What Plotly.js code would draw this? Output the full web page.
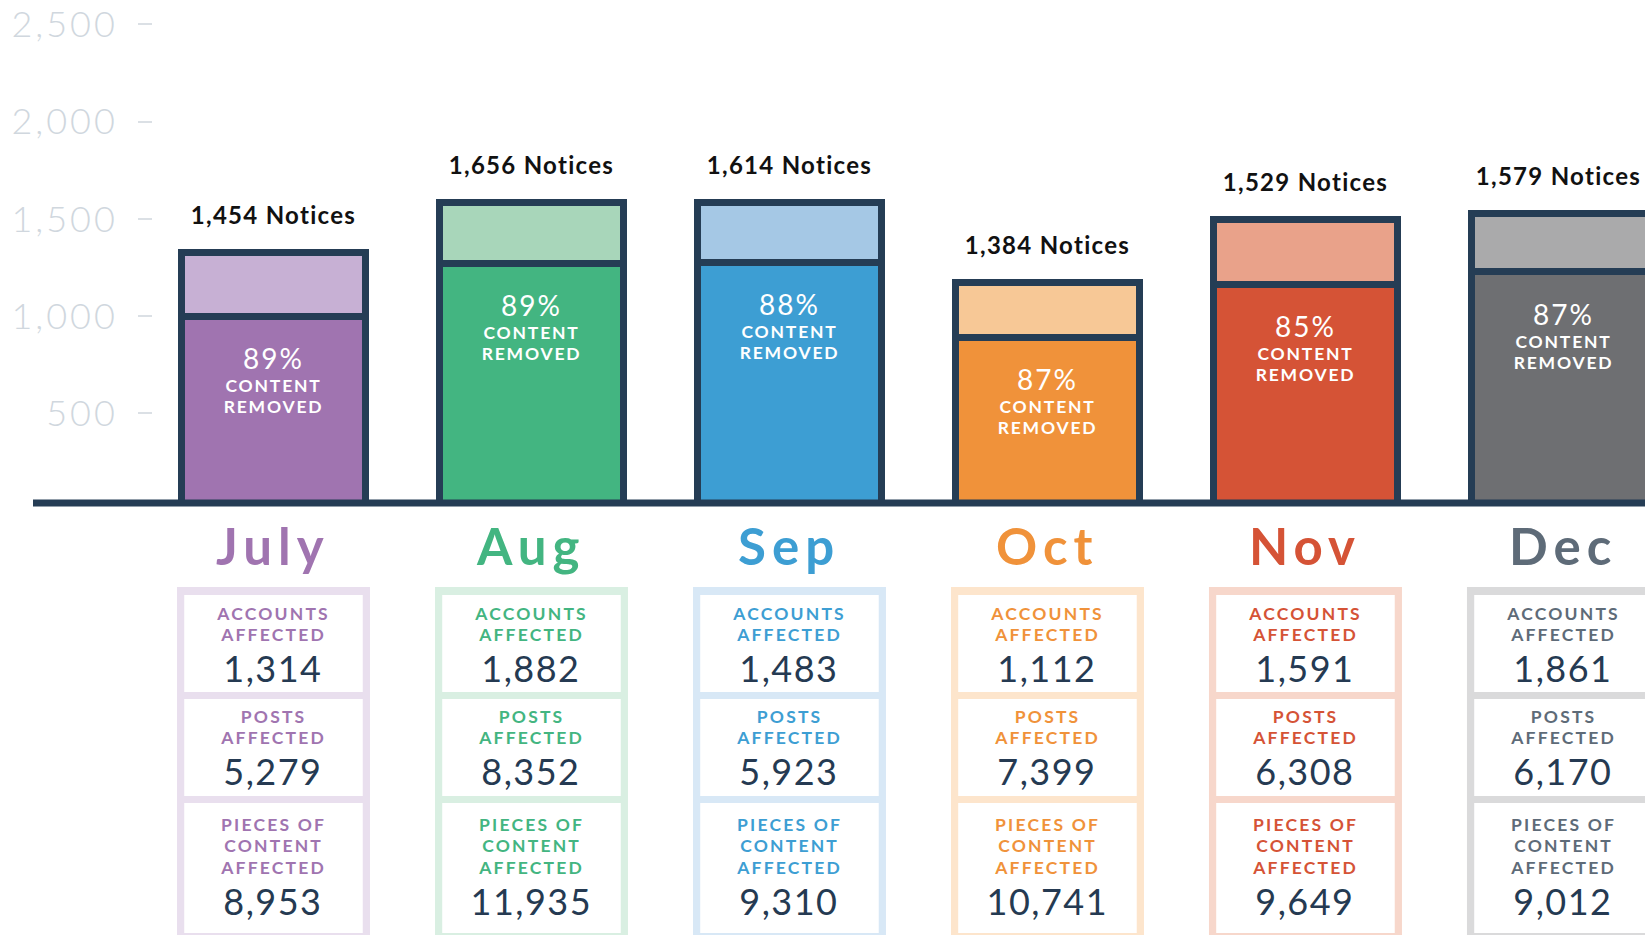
<!DOCTYPE html>
<html>
<head>
<meta charset="utf-8">
<script src="https://cdn.plot.ly/plotly-3.0.1.min.js"></script>
<style>
  html, body { margin: 0; padding: 0; background: #ffffff; }
  #chart { width: 1645px; height: 935px; }
  .ytick text { letter-spacing: 3px; }
</style>
</head>
<body>
<div id="chart"></div>
<script>
// ---------------- data ----------------
const months = ["July", "Aug", "Sep", "Oct", "Nov", "Dec"];
const notices = [1454, 1656, 1614, 1384, 1529, 1579];
const removedPct = [89, 89, 88, 87, 85, 87];
// bar segments as drawn against the y axis
const removedBar = [998, 1271, 1278, 892, 1165, 1229];
const remainderBar = [327, 311, 306, 281, 334, 299];
const accounts = [1314, 1882, 1483, 1112, 1591, 1861];
const posts = [5279, 8352, 5923, 7399, 6308, 6170];
const pieces = [8953, 11935, 9310, 10741, 9649, 9012];
const yTicks = [500, 1000, 1500, 2000, 2500];

// ---------------- styles ----------------
const darkColors  = ["#a074b0", "#43b581", "#3d9ed3", "#f0923a", "#d55336", "#6e6f72"];
const lightColors = ["#c7b0d4", "#a8d6ba", "#a5c8e5", "#f7c896", "#e9a28a", "#aaaaab"];
const labelColors = ["#a074b0", "#43b581", "#3d9ed3", "#f0923a", "#d55336", "#5e6b78"];
const boxColors   = ["#e9dfee", "#d9efe2", "#d8e8f6", "#fde5cc", "#f7d7cb", "#dadadb"];
const navy = "#253d55";
const numNavy = "#253a52";
const FONT = "Lato, 'Open Sans', sans-serif";

const W = 1645, H = 935;
const ML = 153, PLOT_BOTTOM = 503;
const LAB = 17.5;        // small caps label size
const LINE_EM = 1.22;    // line pitch of stacked caps labels
const fmt = v => v.toLocaleString("en-US");
const P = py => (PLOT_BOTTOM - py) / PLOT_BOTTOM; // pixel row -> paper y

// ---------------- traces ----------------
const traces = [
  {
    type: "bar", x: months, y: removedBar, width: 0.713,
    marker: { color: darkColors, line: { color: navy, width: 7 } },
    hoverinfo: "skip", showlegend: false
  },
  {
    type: "bar", x: months, y: remainderBar, width: 0.713,
    marker: { color: lightColors, line: { color: navy, width: 7 } },
    hoverinfo: "skip", showlegend: false
  }
];

// ---------------- shapes & annotations ----------------
const shapes = [];
const annotations = [];
const post = [];   // per-annotation post-render tweaks: {ls, lineEm}
function addAnn(a, ls, lineEm) {
  annotations.push(Object.assign({ showarrow: false }, a));
  post.push({ ls: ls || 0, lineEm: lineEm || 0 });
}

// baseline
shapes.push({
  type: "line", xref: "paper", yref: "paper",
  x0: (33 - ML) / (W - ML), x1: 1, y0: 0, y1: 0,
  line: { color: navy, width: 7 }, layer: "above"
});

const cells = [[595, 692], [699, 796], [803, 933]];
const last = months.length - 1;
months.forEach((m, i) => {
  // info box
  shapes.push({
    type: "rect", xref: "x", yref: "paper",
    x0: i - 0.374, x1: i + 0.374, y0: P(940), y1: P(587),
    fillcolor: boxColors[i], line: { width: 0 }, layer: "below"
  });
  cells.forEach(c => shapes.push({
    type: "rect", xref: "x", yref: "paper",
    x0: i - 0.346, x1: i + 0.346, y0: P(c[1]), y1: P(c[0]),
    fillcolor: "#ffffff", line: { width: 0 }, layer: "below"
  }));

  const total = removedBar[i] + remainderBar[i];
  // notices label
  addAnn({
    x: m, xref: "x", y: total, yref: "y", yanchor: "middle", yshift: 38,
    xshift: i === last ? -5 : 0,
    text: fmt(notices[i]) + " Notices",
    font: { family: FONT, size: 24, color: "#111111", weight: 700 }
  }, 1.3);
  // percent removed
  addAnn({
    x: m, xref: "x", y: removedBar[i], yref: "y", yanchor: "middle", yshift: -42,
    text: removedPct[i] + "%",
    font: { family: FONT, size: 28, color: "#ffffff", weight: 400 }
  }, 2);
  addAnn({
    x: m, xref: "x", y: removedBar[i], yref: "y", yanchor: "top", yshift: -(70 - 13),
    text: "CONTENT<br>REMOVED", font: { family: FONT, size: LAB, color: "#ffffff", weight: 700 }
  }, 1.8, LINE_EM);

  // month name
  addAnn({
    x: m, xref: "x", y: P(545), yref: "paper", yanchor: "middle",
    text: m, font: { family: FONT, size: 51, color: labelColors[i], weight: 700 }
  }, 6);

  const lab = (txt, firstCenter) => addAnn({
    x: m, xref: "x", y: P(firstCenter - 13), yref: "paper", yanchor: "top",
    text: txt, font: { family: FONT, size: LAB, color: labelColors[i], weight: 700 }
  }, 2.2, LINE_EM);
  const num = (v, py) => addAnn({
    x: m, xref: "x", y: P(py), yref: "paper", yanchor: "middle",
    text: fmt(v), font: { family: FONT, size: 36, color: numNavy, weight: 400 }
  }, 1.5);

  lab("ACCOUNTS<br>AFFECTED", 614); num(accounts[i], 668);
  lab("POSTS<br>AFFECTED", 717); num(posts[i], 771);
  lab("PIECES OF<br>CONTENT<br>AFFECTED", 825); num(pieces[i], 901);
});

const layout = {
  width: W, height: H,
  margin: { l: ML, r: 0, t: 0, b: H - PLOT_BOTTOM, pad: 0 },
  paper_bgcolor: "#ffffff", plot_bgcolor: "#ffffff",
  barmode: "stack",
  showlegend: false,
  xaxis: {
    type: "category", range: [-0.467, 5.316],
    showticklabels: false, ticks: "", showgrid: false, zeroline: false, showline: false, fixedrange: true
  },
  yaxis: {
    range: [38.6, 2626],
    tickvals: yTicks, ticktext: yTicks.map(fmt),
    ticks: "outside", ticklen: 14, tickwidth: 2, tickcolor: "#dbe0e5",
    tickfont: { family: FONT, size: 36, color: "#d0d7de", weight: 300 },
    ticklabelstandoff: 13,
    showgrid: false, zeroline: false, showline: false, fixedrange: true
  },
  shapes: shapes,
  annotations: annotations,
  font: { family: FONT }
};

Plotly.newPlot("chart", traces, layout, { staticPlot: true, displayModeBar: false }).then(gd => {
  gd.querySelectorAll("g.annotation").forEach(g => {
    const idx = +g.getAttribute("data-index");
    const p = post[idx];
    if (!p) return;
    const t = g.querySelector("text");
    if (!t) return;
    if (p.ls) t.style.letterSpacing = p.ls + "px";
    if (p.lineEm) {
      t.querySelectorAll("tspan.line").forEach((ts, k) => {
        ts.setAttribute("dy", (k * p.lineEm) + "em");
      });
    }
  });
});
</script>
</body>
</html>
